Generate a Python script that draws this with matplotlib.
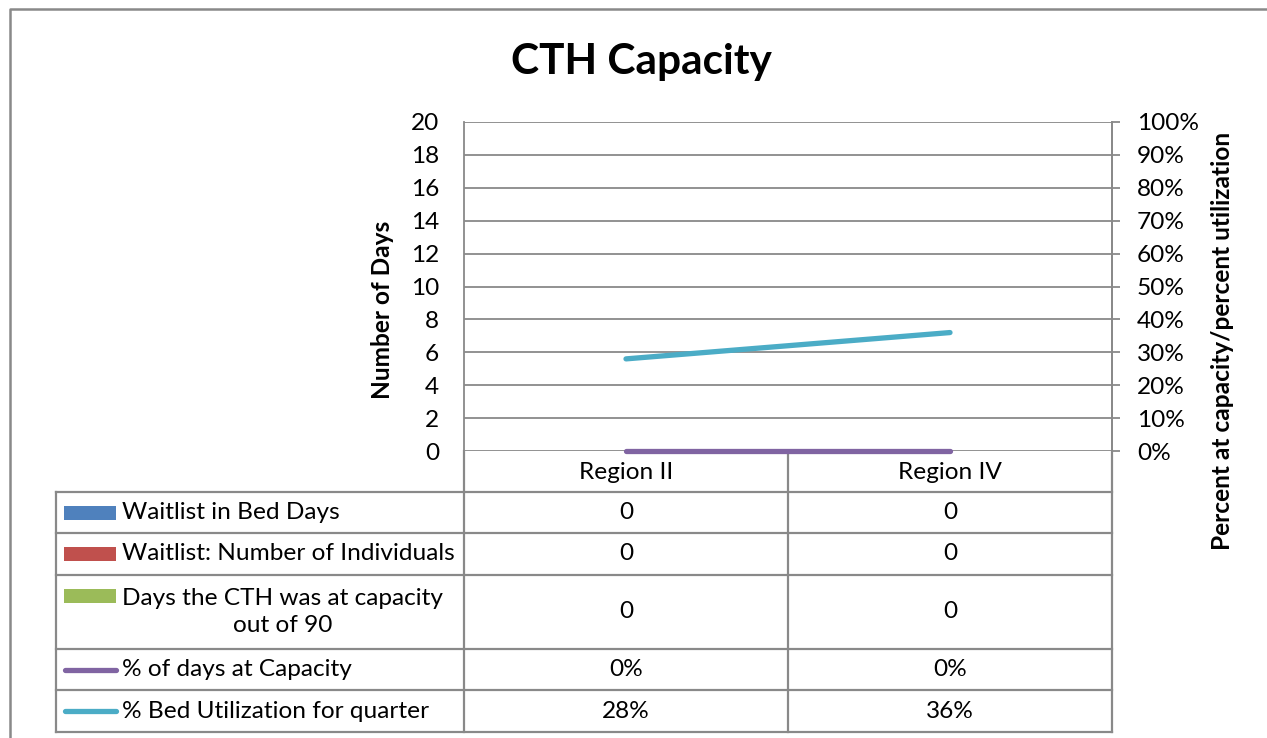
import matplotlib
matplotlib.use("Agg")
import matplotlib.pyplot as plt
from matplotlib.ticker import PercentFormatter, MultipleLocator
from matplotlib.patches import Rectangle

# ---------------- data ----------------
categories = ["Region II", "Region IV"]
waitlist_bed_days = [0, 0]
waitlist_individuals = [0, 0]
days_at_capacity = [0, 0]
pct_days_at_capacity = [0, 0]      # percent
pct_bed_utilization = [28, 36]     # percent

series_names = ["Waitlist in Bed Days",
                "Waitlist: Number of Individuals",
                "Days the CTH was at capacity\nout of 90",
                "% of days at Capacity",
                "% Bed Utilization for quarter"]
title = "CTH Capacity"
left_label = "Number of Days"
right_label = "Percent at capacity/percent utilization"

# ---------------- style ----------------
FONT = "Lato"
FS = 17.6
C_BLUE, C_RED, C_GREEN = "#4F81BD", "#C0504D", "#9BBB59"
C_PURPLE, C_TEAL = "#8064A2", "#4BACC6"
GRID = "#898989"

plt.rcParams["font.family"] = [FONT, "DejaVu Sans"]

W, H = 1267, 738
fig = plt.figure(figsize=(W / 100, H / 100), dpi=100)

# plot area in pixels
PL, PR, PT, PB = 464, 1112, 122, 451


def fx(x):
    return x / W


def fy(y):
    return 1 - y / H


ax = fig.add_axes([fx(PL), fy(PB), fx(PR) - fx(PL), fy(PT) - fy(PB)])
ax.set_xlim(-0.5, len(categories) - 0.5)
ax.set_ylim(0, 20)
ax.yaxis.set_major_locator(MultipleLocator(2))
ax.grid(axis="y", color=GRID, lw=1.3)
ax.set_axisbelow(True)
for s in ["top", "bottom"]:
    ax.spines[s].set_visible(False)
for s in ["left", "right"]:
    ax.spines[s].set_color(GRID)
    ax.spines[s].set_linewidth(1.3)
ax.tick_params(axis="y", length=0, pad=18, labelsize=FS)
ax.set_xticks(range(len(categories)))
ax.set_xticklabels(categories, fontsize=FS)
ax.tick_params(axis="x", length=0, pad=8)

# bars (all zero)
bw = 0.2
xs = list(range(len(categories)))
ax.bar([x - bw for x in xs], waitlist_bed_days, bw, color=C_BLUE)
ax.bar(xs, waitlist_individuals, bw, color=C_RED)
ax.bar([x + bw for x in xs], days_at_capacity, bw, color=C_GREEN)

ax2 = ax.twinx()
ax2.set_ylim(0, 100)
ax2.yaxis.set_major_locator(MultipleLocator(10))
ax2.yaxis.set_major_formatter(PercentFormatter(decimals=0))
for s in ["top", "bottom", "left"]:
    ax2.spines[s].set_visible(False)
ax2.spines["right"].set_color(GRID)
ax2.spines["right"].set_linewidth(1.3)
ax2.tick_params(axis="y", length=6, width=1.3, color=GRID, pad=12, labelsize=FS)
ax2.plot(xs, pct_days_at_capacity, color=C_PURPLE, lw=3.8, solid_capstyle="round", clip_on=False, zorder=5)
ax2.plot(xs, pct_bed_utilization, color=C_TEAL, lw=3.8, solid_capstyle="round", clip_on=False, zorder=5)

# titles and axis labels
fig.text(fx(641), fy(62), title, ha="center", va="center", fontsize=30.5, fontweight="bold")
fig.text(fx(382), fy(310), left_label, ha="center", va="center", rotation=90,
         fontsize=FS, fontweight="bold")
fig.text(fx(1222), fy(341), right_label, ha="center", va="center", rotation=90,
         fontsize=FS, fontweight="bold")

# ---------------- data table ----------------
ov = fig.add_axes([0, 0, 1, 1], zorder=-1)
ov.set_xlim(0, W)
ov.set_ylim(H, 0)
ov.axis("off")

lw = 1.6
# outer chart border (left and top visible)
ov.plot([10, 10, W + 5], [H + 5, 9, 9], color=GRID, lw=1.8, clip_on=False)

TL = 56
MID = (PL + PR) / 2
rows = [492, 533, 575, 649, 690, 732]
for y in rows:
    ov.plot([TL, PR], [y, y], color=GRID, lw=lw)
ov.plot([TL, TL], [rows[0], rows[-1]], color=GRID, lw=lw)
ov.plot([PL, PL], [PB, rows[-1]], color=GRID, lw=lw)
ov.plot([MID, MID], [PB, rows[-1]], color=GRID, lw=lw)
ov.plot([PR, PR], [PB, rows[-1]], color=GRID, lw=lw)

table_vals = [waitlist_bed_days, waitlist_individuals, days_at_capacity,
              [f"{v}%" for v in pct_days_at_capacity],
              [f"{v}%" for v in pct_bed_utilization]]
swatch_colors = [C_BLUE, C_RED, C_GREEN, C_PURPLE, C_TEAL]
col_centers = [(PL + MID) / 2, (MID + PR) / 2]
for i in range(5):
    y0, y1 = rows[i], rows[i + 1]
    yc = (y0 + y1) / 2
    for j, cx in enumerate(col_centers):
        ov.text(cx, yc, str(table_vals[i][j]), ha="center", va="center", fontsize=FS)
    if i < 3:
        sy = yc if i != 2 else y0 + 21
        ov.add_patch(Rectangle((64, sy - 7), 52, 14, color=swatch_colors[i], lw=0))
    else:
        ov.plot([65, 116], [yc, yc], color=swatch_colors[i], lw=3.8, solid_capstyle="round")
    if i == 2:
        ov.text(283, yc, series_names[i], ha="center", va="center", fontsize=FS,
                linespacing=1.3)
    else:
        ov.text(122, yc, series_names[i], ha="left", va="center", fontsize=FS)

fig.savefig("out.png", dpi=100, facecolor="white")
